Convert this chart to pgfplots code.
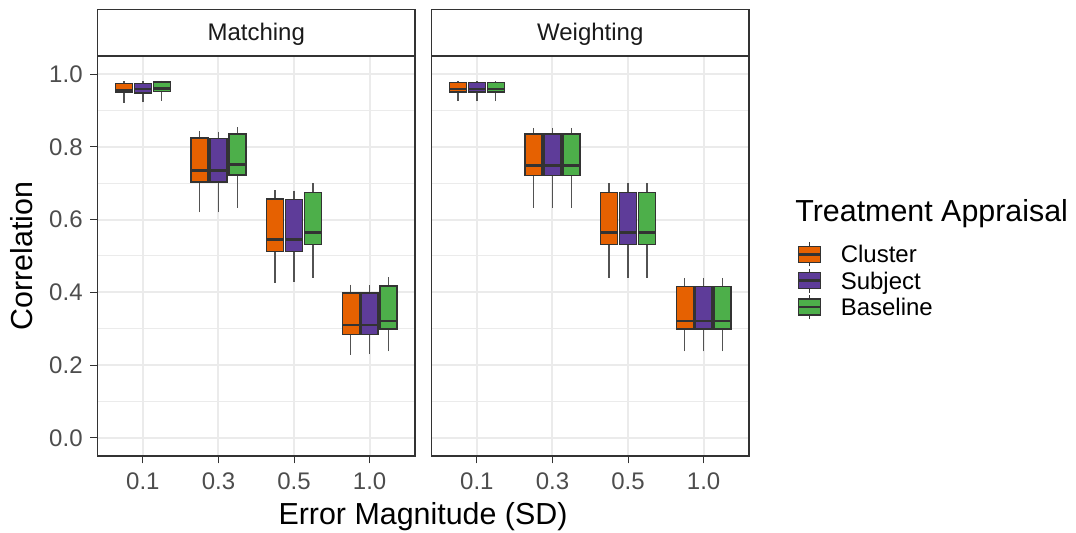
\documentclass[border=0pt]{standalone}
\usepackage{fontspec}
\setmainfont{Liberation Sans}
\usepackage{pgfplots}
\pgfplotsset{compat=1.18}
\usepgfplotslibrary{statistics}
\definecolor{cOr}{HTML}{E66101}
\definecolor{cPu}{HTML}{5E3C99}
\definecolor{cGr}{HTML}{4DAF4A}
\definecolor{g20}{HTML}{333333}
\definecolor{g30}{HTML}{4D4D4D}
\definecolor{g92}{HTML}{EBEBEB}
\definecolor{g10}{HTML}{1A1A1A}
\newcommand{\smallf}{\fontsize{12}{14}\selectfont}
\newcommand{\largef}{\fontsize{15.2}{18}\selectfont}
% draw position, lower whisker, lower quartile, median, upper quartile, upper whisker, colour
\newcommand{\bx}[7]{\addplot[forget plot, fill=#7, draw=g20, line width=0.7pt,
  boxplot prepared={draw direction=y, draw position=#1, lower whisker=#2, lower quartile=#3, median=#4,
  upper quartile=#5, upper whisker=#6, box extend=0.225, whisker extend=0}] coordinates {};}
\pgfplotsset{
  panel/.style={
    scale only axis, width=158.75pt, height=200pt,
    xmin=0.4, xmax=4.6, ymin=-0.05, ymax=1.05,
    xtick={1,2,3,4}, xticklabels={0.1,0.3,0.5,1.0},
    ytick={0,0.2,0.4,0.6,0.8,1.0}, minor ytick={0.1,0.3,0.5,0.7,0.9},
    grid=both,
    major grid style={g92, line width=1pt},
    minor grid style={g92, line width=0.5pt},
    axis line style={g20, line width=0.6pt},
    tick align=outside, major tick length=3.75pt, minor tick length=0pt,
    tick style={g20, line width=0.55pt},
    xtick pos=bottom, ytick pos=left,
    ticklabel style={font=\smallf, text=g30},
    xticklabel style={anchor=north, inner sep=0pt, yshift=-4.5pt},
    yticklabel style={anchor=east, inner sep=0pt, xshift=-3.5pt},
    every axis title shift=0pt,
    title style={at={(0.5,1)}, anchor=south, draw=g20, line width=0.6pt,
      minimum width=158.75pt, minimum height=23pt, inner sep=0pt,
      text height=8.6pt, text depth=0pt, font=\smallf, text=g10},
    boxplot/draw direction=y,
    boxplot/every median/.style={line width=1.4pt},
    boxplot/every whisker/.style={line width=0.7pt, draw=g20!85!white},
  }
}
\begin{document}
\begin{tikzpicture}
\path[use as bounding box] (0,0) rectangle (538pt,266.5pt);
\begin{axis}[panel, at={(48.75pt,38.5pt)}, anchor=south west, title={Matching},
  yticklabels={0.0,0.2,0.4,0.6,0.8,1.0}]
\bx{0.75}{0.922}{0.950}{0.956}{0.975}{0.981}{cOr}
\bx{1.00}{0.923}{0.948}{0.959}{0.975}{0.981}{cPu}
\bx{1.25}{0.927}{0.952}{0.961}{0.978}{0.982}{cGr}
\bx{1.75}{0.620}{0.704}{0.734}{0.825}{0.844}{cOr}
\bx{2.00}{0.620}{0.704}{0.735}{0.823}{0.841}{cPu}
\bx{2.25}{0.632}{0.723}{0.751}{0.836}{0.854}{cGr}
\bx{2.75}{0.427}{0.512}{0.546}{0.657}{0.681}{cOr}
\bx{3.00}{0.428}{0.512}{0.546}{0.656}{0.680}{cPu}
\bx{3.25}{0.440}{0.531}{0.564}{0.675}{0.701}{cGr}
\bx{3.75}{0.229}{0.284}{0.310}{0.398}{0.421}{cOr}
\bx{4.00}{0.230}{0.284}{0.310}{0.398}{0.420}{cPu}
\bx{4.25}{0.238}{0.299}{0.321}{0.417}{0.442}{cGr}
\end{axis}
\begin{axis}[panel, at={(215.75pt,38.5pt)}, anchor=south west, title={Weighting},
  yticklabels={}, y tick style={draw=none},
  legend cell align=left,
  legend style={at={(1.151,0.536)}, anchor=north west, draw=none, fill=none,
    inner sep=0pt, outer sep=0pt, row sep=0.5pt, column sep=9.5pt, font=\smallf,
    nodes={inner sep=0pt, text height=8.6pt, text depth=0pt}}]
\addlegendimage{fill=cOr, draw=g20, legend image code/.code={
  \draw[line width=0.7pt] (5.5pt,-6pt)--(5.5pt,6pt);
  \filldraw[line width=0.7pt] (0pt,-4pt) rectangle (11pt,4pt);
  \draw[line width=1.4pt] (0pt,0pt)--(11pt,0pt);}}
\addlegendentry{Cluster}
\addlegendimage{fill=cPu, draw=g20, legend image code/.code={
  \draw[line width=0.7pt] (5.5pt,-6pt)--(5.5pt,6pt);
  \filldraw[line width=0.7pt] (0pt,-4pt) rectangle (11pt,4pt);
  \draw[line width=1.4pt] (0pt,0pt)--(11pt,0pt);}}
\addlegendentry{Subject}
\addlegendimage{fill=cGr, draw=g20, legend image code/.code={
  \draw[line width=0.7pt] (5.5pt,-6pt)--(5.5pt,6pt);
  \filldraw[line width=0.7pt] (0pt,-4pt) rectangle (11pt,4pt);
  \draw[line width=1.4pt] (0pt,0pt)--(11pt,0pt);}}
\addlegendentry{Baseline}
\bx{0.75}{0.926}{0.951}{0.959}{0.977}{0.981}{cOr}
\bx{1.00}{0.926}{0.951}{0.959}{0.977}{0.981}{cPu}
\bx{1.25}{0.926}{0.951}{0.959}{0.977}{0.981}{cGr}
\bx{1.75}{0.632}{0.722}{0.748}{0.835}{0.852}{cOr}
\bx{2.00}{0.632}{0.722}{0.748}{0.835}{0.852}{cPu}
\bx{2.25}{0.632}{0.722}{0.748}{0.835}{0.852}{cGr}
\bx{2.75}{0.440}{0.531}{0.564}{0.675}{0.701}{cOr}
\bx{3.00}{0.440}{0.531}{0.564}{0.675}{0.701}{cPu}
\bx{3.25}{0.440}{0.531}{0.564}{0.675}{0.701}{cGr}
\bx{3.75}{0.238}{0.299}{0.321}{0.416}{0.440}{cOr}
\bx{4.00}{0.238}{0.299}{0.321}{0.416}{0.440}{cPu}
\bx{4.25}{0.238}{0.299}{0.321}{0.416}{0.440}{cGr}
\end{axis}
\node[rotate=90, anchor=base, font=\largef] at (16.5pt,138.5pt) {Correlation};
\node[anchor=base, font=\largef] at (211.5pt,4pt) {Error Magnitude (SD)};
\node[anchor=base west, inner sep=0pt, font=\largef] at (397.5pt,155.65pt) {Treatment Appraisal};
\end{tikzpicture}
\end{document}
